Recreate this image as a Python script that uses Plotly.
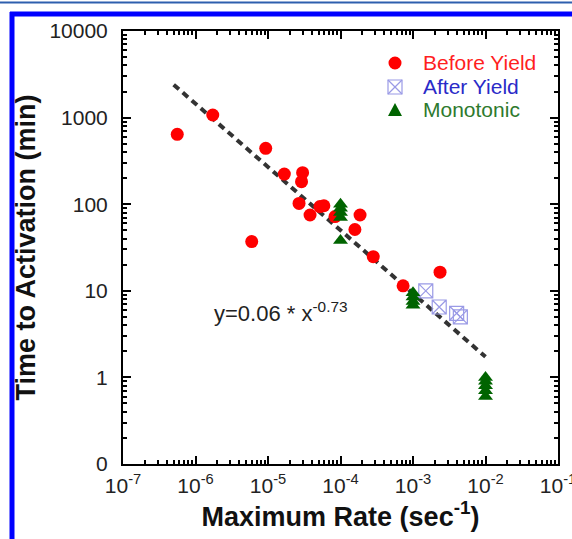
import plotly.graph_objects as go

# ---------------- data ----------------
before_x = [5.6e-7, 1.73e-6, 9.3e-6, 5.96e-6, 1.68e-5, 3.0e-5, 2.9e-5, 2.68e-5, 3.8e-5,
            5.2e-5, 5.9e-5, 8.4e-5, 1.58e-4, 1.86e-4, 2.83e-4, 7.3e-4, 2.36e-3]
before_y = [641, 1071, 442, 37, 223, 231, 182, 102, 75,
            94, 96, 72, 51, 75, 24.8, 11.4, 16.4]

after_x = [1.5e-3, 2.3e-3, 4.0e-3, 4.5e-3]
after_y = [10.0, 6.5, 5.5, 5.0]

mono_x = [1e-4, 1e-4, 1e-4, 1e-4, 1e-4,
          1e-3, 1e-3, 1e-3, 1e-3,
          1e-2, 1e-2, 1e-2, 1e-2, 1e-2]
mono_y = [100, 90, 80, 70, 38,
          9.5, 8.5, 7.5, 6.8,
          1.0, 0.9, 0.8, 0.7, 0.6]

fit_x = [5.0e-7, 1.0e-2]
fit_y = [2400, 1.73]

series_names = ["Before Yield", "After Yield", "Monotonic"]
fit_label = "y=0.06 * x<sup>-0.73</sup>"

x_tickvals = [1e-7, 1e-6, 1e-5, 1e-4, 1e-3, 1e-2, 1e-1]
x_ticktext = ["10<sup>-7</sup>", "10<sup>-6</sup>", "10<sup>-5</sup>", "10<sup>-4</sup>",
              "10<sup>-3</sup>", "10<sup>-2</sup>", "10<sup>-1</sup>"]
y_tickvals = [0.1, 1, 10, 100, 1000, 10000]
y_ticktext = ["0", "1", "10", "100", "1000", "10000"]

# ---------------- layout geometry ----------------
W, H = 572, 539
L, R, T, B = 123, 558, 31, 464

def xp(px):
    return (px - L) / (R - L)

def yp(py):
    return (B - py) / (B - T)

FONT = "Arial, Liberation Sans, sans-serif"
RED = "#ff0000"
BLUE = "#9a9ae6"
GREEN = "#006400"
TXT_COLORS = ["#ff1f1f", "#2a2ac8", "#2e7a2e"]

fig = go.Figure()

fig.add_trace(go.Scatter(x=fit_x, y=fit_y, mode="lines", showlegend=False,
                         line=dict(color="#333333", width=4, dash="7px,5px")))

fig.add_trace(go.Scatter(x=before_x, y=before_y, mode="markers", name=series_names[0],
                         showlegend=False,
                         marker=dict(symbol="circle", size=13, color=RED)))
fig.add_trace(go.Scatter(x=after_x, y=after_y, mode="markers", name=series_names[1],
                         showlegend=False,
                         marker=dict(symbol="square-x-open", size=14, color=BLUE,
                                     line=dict(width=1.2, color=BLUE))))
fig.add_trace(go.Scatter(x=mono_x, y=mono_y, mode="markers", name=series_names[2],
                         showlegend=False,
                         marker=dict(symbol="triangle-up", size=13, color=GREEN)))

minor_x = [k * 10 ** e for e in range(-7, -1) for k in range(2, 10)]
minor_y = [k * 10 ** e for e in range(-1, 4) for k in range(2, 10)]

axis_common = dict(
    showgrid=False, zeroline=False, showline=True, linecolor="black", linewidth=2,
    mirror="ticks", ticks="inside", ticklen=8, tickwidth=2, tickcolor="black",
    tickfont=dict(family=FONT, size=21, color="#222222"),
    ticklabeloverflow="allow",
)

fig.update_xaxes(type="log", range=[-7.0001, -0.9999], tickvals=x_tickvals, ticktext=x_ticktext,
                 minor=dict(ticks="inside", ticklen=4, tickwidth=1.5, tickcolor="black",
                            tickvals=minor_x, showgrid=False),
                 title=dict(text="<b>Maximum Rate (sec<sup>-1</sup>)</b>",
                            font=dict(family=FONT, size=27, color="#111111"), standoff=8),
                 ticklabelstandoff=2,
                 automargin=False, **axis_common)
fig.update_yaxes(type="log", range=[-1, 4], tickvals=y_tickvals, ticktext=y_ticktext,
                 minor=dict(ticks="inside", ticklen=4, tickwidth=1.5, tickcolor="black",
                            tickvals=minor_y, showgrid=False),
                 title=dict(text="<b>Time to Activation (min)</b>",
                            font=dict(family=FONT, size=27, color="#111111"), standoff=6),
                 ticklabelstandoff=9,
                 automargin=False, **axis_common)

# fit equation label (anchored at its right end)
fig.add_annotation(x=-3.87, y=0.75, xref="x", yref="y",
                   text=fit_label, showarrow=False, xanchor="right",
                   yanchor="middle", font=dict(family=FONT, size=22, color="#222222"))

# ---------------- legend (drawn as keys + coloured labels) ----------------
rows = [63, 87, 110]
key_x = 395
shapes = []
r = 6.5
shapes.append(dict(type="circle", xref="paper", yref="paper",
                   x0=xp(key_x - r), x1=xp(key_x + r), y0=yp(rows[0] + r), y1=yp(rows[0] - r),
                   fillcolor=RED, line=dict(color=RED, width=0)))
s = 7
sq = dict(xref="paper", yref="paper", line=dict(color=BLUE, width=1.2))
shapes.append(dict(type="rect", x0=xp(key_x - s), x1=xp(key_x + s),
                   y0=yp(rows[1] + s), y1=yp(rows[1] - s), **sq))
shapes.append(dict(type="line", x0=xp(key_x - s), x1=xp(key_x + s),
                   y0=yp(rows[1] + s), y1=yp(rows[1] - s), **sq))
shapes.append(dict(type="line", x0=xp(key_x - s), x1=xp(key_x + s),
                   y0=yp(rows[1] - s), y1=yp(rows[1] + s), **sq))
tpath = "M {} {} L {} {} L {} {} Z".format(
    xp(key_x - 7), yp(rows[2] + 6), xp(key_x + 7), yp(rows[2] + 6), xp(key_x), yp(rows[2] - 7))
shapes.append(dict(type="path", xref="paper", yref="paper", path=tpath,
                   fillcolor=GREEN, line=dict(color=GREEN, width=0)))

for name, row, col in zip(series_names, rows, TXT_COLORS):
    fig.add_annotation(x=xp(421), y=yp(row), xref="paper", yref="paper", text=name,
                       showarrow=False, xanchor="left", yanchor="middle",
                       font=dict(family=FONT, size=21, color=col))

# blue frame decorations
shapes += [
    dict(type="line", xref="paper", yref="paper", x0=xp(0), x1=xp(W), y0=yp(2.5), y1=yp(2.5),
         line=dict(color="#2e5fae", width=2)),
    dict(type="line", xref="paper", yref="paper", x0=xp(12), x1=xp(12), y0=yp(12), y1=yp(H + 5),
         line=dict(color="#0000ff", width=5)),
    dict(type="line", xref="paper", yref="paper", x0=xp(10), x1=xp(W + 5), y0=yp(14), y1=yp(14),
         line=dict(color="#0000ff", width=5)),
]
fig.update_layout(shapes=shapes)

fig.update_layout(
    width=W, height=H,
    margin=dict(l=L, r=W - R, t=T, b=H - B, pad=0),
    paper_bgcolor="white", plot_bgcolor="white",
    font=dict(family=FONT),
    showlegend=False,
)

fig.write_html("out.html")
